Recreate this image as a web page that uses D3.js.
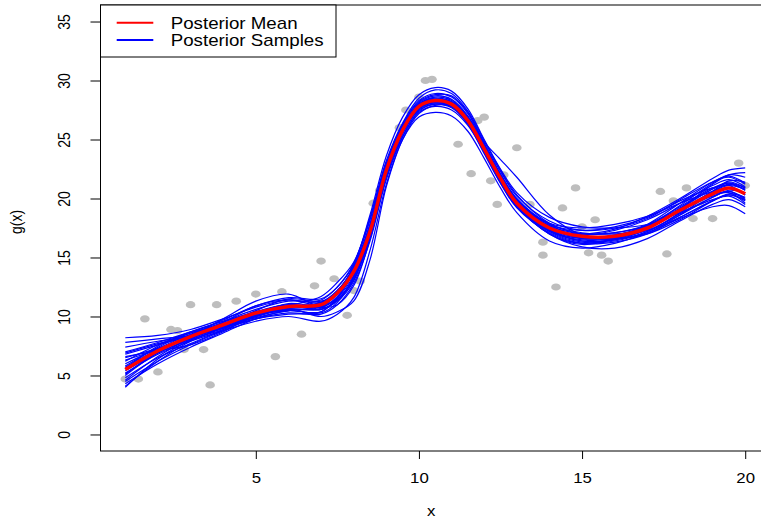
<!DOCTYPE html>
<html>
<head>
<meta charset="utf-8">
<script src="https://cdn.jsdelivr.net/npm/d3@7"></script>
<style>
  body { margin: 0; background: #fff; }
  text { font-family: "Liberation Sans", Arial, Helvetica, sans-serif; }
</style>
</head>
<body>
<div id="chart"></div>
<script>
//DATA
//observed points (x, y)
const obsX = [1.0, 1.4, 1.6, 2.0, 2.4, 2.6, 2.8, 3.0, 3.4, 3.6, 3.8, 4.4, 5.0, 5.6, 5.8, 6.4, 6.8, 7.0, 7.4, 7.8,
    8.0, 8.2, 8.6, 8.8, 9.4, 9.6, 10.0, 10.2, 10.4, 11.2, 11.6, 11.8, 12.0, 12.2, 12.4, 12.6, 13.0, 13.4, 13.8, 13.8,
    14.2, 14.4, 14.8, 15.0, 15.2, 15.4, 15.6, 15.8, 17.4, 17.6, 17.8, 18.2, 18.4, 18.6, 19.0, 19.8, 20.0];
const obsY = [4.7, 4.7, 9.8, 5.3, 8.9, 8.8, 7.2, 11.0, 7.2, 4.2, 11.0, 11.3, 11.9, 6.6, 12.1, 8.5, 12.6, 14.7, 13.2, 10.1,
    12.2, 13.0, 19.6, 20.7, 26.0, 27.5, 28.6, 30.0, 30.1, 24.6, 22.1, 26.6, 26.9, 21.5, 19.5, 22.0, 24.3, 19.5, 15.2, 16.3,
    12.5, 19.2, 20.9, 17.6, 15.4, 18.2, 15.2, 14.7, 20.6, 15.3, 19.8, 20.9, 18.3, 19.7, 18.3, 23.0, 21.1];

//x positions where the curves are read
const gridX = [1, 2, 3, 4, 5, 6, 7, 7.5, 8, 8.5, 9, 9.5, 10, 10.5, 11, 11.5, 12, 12.5, 13, 14, 15, 16, 17, 18, 19, 19.5, 20];

//posterior mean
const meanY = [5.5, 7.1, 8.3, 9.3, 10.3, 10.85, 11.0, 12.0, 13.8, 17.2, 22.4, 25.8, 27.8, 28.3, 28.0, 26.6, 24.2, 21.7, 19.6, 17.5, 16.8, 16.8, 17.5, 19.0, 20.4, 20.9, 20.4];

//posterior samples
const sampleY = [
    [8.2, 8.4, 8.9, 9.8, 10.8, 11.4, 11.2, 12.2, 14.2, 17.8, 22.8, 26.0, 28.0, 28.6, 28.3, 26.9, 24.5, 22.0, 19.9, 17.6, 16.6, 16.7, 17.3, 18.6, 20.1, 20.6, 20.0],
    [4.0, 6.4, 8.0, 9.0, 10.0, 10.6, 10.6, 11.4, 13.2, 16.6, 21.8, 25.3, 27.4, 28.0, 27.8, 26.4, 24.0, 21.4, 19.3, 17.2, 16.5, 16.6, 17.4, 19.1, 20.8, 21.4, 20.9],
    [6.2, 7.6, 8.6, 9.7, 10.9, 11.6, 11.5, 12.5, 14.5, 18.4, 23.2, 26.4, 28.5, 29.2, 28.9, 27.4, 24.9, 22.4, 20.3, 17.9, 17.0, 17.1, 17.8, 19.3, 20.9, 21.3, 20.7],
    [5.0, 6.9, 8.0, 8.9, 9.8, 10.3, 10.2, 11.0, 12.8, 16.4, 21.6, 25.2, 27.3, 27.8, 27.5, 26.2, 23.9, 21.3, 19.2, 17.1, 16.2, 16.3, 17.0, 18.4, 19.8, 20.3, 19.8],
    [6.8, 7.6, 8.4, 9.8, 11.3, 11.9, 10.8, 11.0, 12.6, 16.6, 22.2, 25.8, 27.9, 28.4, 28.1, 26.7, 24.3, 21.8, 19.7, 17.6, 16.9, 17.3, 18.2, 19.6, 21.1, 21.6, 21.0],
    [4.6, 6.6, 8.2, 9.4, 10.2, 10.5, 10.9, 12.1, 14.2, 17.6, 22.6, 26.0, 28.1, 28.7, 28.4, 27.0, 24.6, 22.1, 20.0, 17.8, 16.7, 16.6, 17.1, 18.6, 20.6, 21.5, 21.4],
    [5.8, 7.4, 8.6, 9.3, 10.0, 10.9, 11.7, 12.9, 14.6, 18.2, 23.0, 26.3, 28.3, 28.9, 28.6, 27.2, 24.7, 22.3, 20.2, 18.1, 17.3, 17.5, 18.3, 19.9, 21.4, 21.8, 21.2],
    [7.4, 7.9, 8.3, 9.0, 10.1, 10.9, 10.6, 11.3, 13.0, 16.9, 22.0, 25.5, 27.5, 28.0, 27.7, 26.3, 23.8, 21.3, 19.3, 17.3, 16.6, 16.8, 17.6, 19.0, 20.2, 20.5, 19.6],
    [4.3, 6.0, 7.4, 8.6, 9.8, 10.5, 10.3, 11.2, 13.4, 17.3, 22.3, 25.7, 27.7, 28.3, 28.0, 26.6, 24.2, 21.8, 19.7, 17.4, 16.4, 16.5, 17.4, 19.1, 21.2, 22.0, 22.2],
    [6.5, 7.3, 8.1, 9.5, 10.9, 11.4, 11.0, 11.9, 13.8, 17.4, 22.4, 25.9, 28.0, 28.5, 28.2, 26.8, 24.3, 21.9, 19.8, 17.7, 17.0, 17.1, 17.7, 19.0, 20.3, 20.6, 19.9],
    [5.2, 6.8, 7.9, 8.8, 9.6, 10.0, 9.6, 10.2, 11.6, 15.6, 21.2, 25.0, 26.9, 27.3, 27.0, 25.7, 23.4, 20.9, 18.8, 16.4, 15.8, 16.2, 17.1, 18.3, 19.3, 19.4, 18.7],
    [5.6, 7.5, 8.7, 9.6, 10.6, 11.3, 11.4, 12.5, 14.4, 18.6, 23.6, 26.9, 28.8, 29.4, 29.1, 27.6, 25.0, 22.5, 20.5, 18.4, 17.6, 17.5, 17.8, 18.8, 19.9, 20.2, 19.5],
    [4.8, 6.5, 7.7, 8.9, 10.3, 11.0, 10.6, 11.4, 13.3, 17.0, 22.1, 25.5, 27.6, 28.1, 27.8, 26.5, 24.2, 21.6, 19.4, 17.0, 16.1, 16.6, 17.8, 19.6, 21.4, 21.9, 21.3],
    [7.0, 7.8, 8.7, 9.6, 10.3, 10.5, 10.4, 11.6, 13.9, 17.6, 22.6, 26.0, 27.9, 28.3, 28.0, 26.7, 24.4, 22.0, 19.9, 17.8, 17.3, 17.6, 18.4, 19.8, 20.9, 21.1, 20.3],
    [5.4, 6.9, 8.1, 9.1, 10.1, 10.6, 10.7, 11.7, 13.7, 17.3, 22.3, 25.6, 27.6, 28.2, 27.9, 26.5, 24.1, 21.6, 19.5, 17.4, 16.7, 16.9, 17.6, 19.0, 20.6, 21.1, 20.8],
    [6.0, 7.3, 8.5, 9.5, 10.4, 10.7, 10.0, 10.4, 11.3, 14.8, 21.0, 25.0, 27.2, 27.9, 27.8, 26.5, 24.3, 21.9, 19.7, 17.2, 16.3, 16.4, 17.2, 18.7, 20.1, 20.7, 20.5],
    [6.3, 7.2, 8.2, 9.2, 10.2, 10.8, 11.2, 12.2, 14.1, 17.8, 22.8, 26.2, 28.2, 28.8, 28.7, 27.3, 24.8, 23.3, 21.8, 18.6, 16.9, 16.6, 17.0, 18.2, 19.8, 20.4, 20.1],
    [4.5, 6.2, 7.6, 8.8, 10.0, 10.7, 10.9, 11.9, 13.8, 17.5, 22.5, 25.9, 27.9, 28.4, 28.1, 26.7, 24.3, 21.8, 19.6, 17.3, 16.4, 16.5, 17.2, 18.8, 20.6, 21.2, 20.7],
    [6.9, 7.7, 8.4, 9.1, 9.9, 10.5, 10.8, 12.0, 14.3, 18.2, 23.0, 26.1, 27.9, 28.3, 27.9, 26.4, 24.0, 21.5, 19.4, 17.4, 17.0, 17.4, 18.5, 20.0, 21.7, 22.4, 22.6],
    [5.1, 7.0, 8.4, 9.4, 10.4, 11.0, 10.8, 11.5, 13.1, 16.9, 22.1, 25.6, 27.6, 28.1, 27.8, 26.4, 24.0, 21.5, 19.4, 17.0, 15.9, 15.8, 16.6, 18.1, 19.5, 19.9, 19.3],
    [7.8, 8.1, 8.4, 9.2, 10.5, 11.5, 11.3, 12.0, 13.9, 17.7, 22.6, 25.9, 27.9, 28.4, 28.1, 26.8, 24.4, 21.9, 19.8, 17.6, 16.7, 16.9, 17.7, 19.2, 20.8, 21.3, 20.9],
    [4.1, 6.2, 7.9, 9.0, 9.8, 10.2, 10.4, 11.6, 13.9, 17.5, 22.4, 25.7, 27.7, 28.2, 27.9, 26.6, 24.2, 21.7, 19.7, 17.9, 17.5, 17.8, 18.5, 19.6, 20.6, 20.9, 20.3],
    [5.7, 7.2, 8.2, 9.1, 10.0, 10.8, 11.1, 12.1, 14.0, 17.7, 22.6, 25.9, 27.8, 28.3, 28.0, 26.7, 24.2, 21.7, 19.5, 17.0, 16.2, 16.6, 17.6, 19.4, 21.3, 22.0, 21.8],
    [6.6, 7.1, 7.6, 8.7, 10.2, 11.1, 10.9, 11.6, 13.5, 17.2, 22.3, 25.7, 27.8, 28.4, 28.2, 26.9, 24.5, 22.0, 19.9, 17.8, 17.1, 17.0, 17.3, 18.4, 19.8, 20.3, 19.9]
];

//axis ticks and labels
const xTicks = [5, 10, 15, 20];
const yTicks = [0, 5, 10, 15, 20, 25, 30, 35];
const legendLabels = ["Posterior Mean", "Posterior Samples"];
const legendColors = ["#ff0000", "#0000ff"];

//LAYOUT
let width = 761;
let height = 521;
let plot = { left: 100.5, right: 770, top: 5, bottom: 451 };
const stretch = 1.2; //the picture is a little wider than tall, text too

let svg = d3.select("#chart").append("svg")
    .attr("width", width)
    .attr("height", height);

//R pads the data range by 4% on each side
let x = d3.scaleLinear().domain([0.24, 20.76]).range([plot.left, plot.right]);
let y = d3.scaleLinear().domain([-1.4, 36.4]).range([plot.bottom, plot.top]);

let line = d3.line()
    .x(function (d) { return x(d[0]); })
    .y(function (d) { return y(d[1]); })
    .curve(d3.curveCatmullRom.alpha(0.5));

//Points
svg.append("g").selectAll("ellipse")
    .data(d3.zip(obsX, obsY))
    .enter()
    .append("ellipse")
    .attr("cx", function (d) { return x(d[0]); })
    .attr("cy", function (d) { return y(d[1]); })
    .attr("rx", 4.8)
    .attr("ry", 3.6)
    .attr("fill", "#bebebe");

//Sample curves
svg.append("g").selectAll("path")
    .data(sampleY)
    .enter()
    .append("path")
    .attr("d", function (s) { return line(d3.zip(gridX, s)); })
    .attr("fill", "none")
    .attr("stroke", "#0000ff")
    .attr("stroke-width", 1.2);

//Mean curve
svg.append("path")
    .attr("d", line(d3.zip(gridX, meanY)))
    .attr("fill", "none")
    .attr("stroke", "#ff0000")
    .attr("stroke-width", 3.5);

//Box round the plot
svg.append("rect")
    .attr("x", plot.left)
    .attr("y", plot.top)
    .attr("width", plot.right - plot.left)
    .attr("height", plot.bottom - plot.top)
    .attr("fill", "none")
    .attr("stroke", "#000")
    .attr("stroke-width", 1);

//X axis
let xAxis = svg.append("g")
    .attr("transform", "translate(0," + plot.bottom + ")")
    .call(d3.axisBottom(x).tickValues(xTicks).tickSize(8).tickFormat(d3.format("d")));
xAxis.select(".domain").remove();
xAxis.selectAll("line").attr("stroke", "#000");
xAxis.selectAll("text")
    .attr("y", 0).attr("dy", 0)
    .attr("fill", "#000")
    .attr("font-size", 14)
    .attr("transform", "translate(0,32) scale(" + stretch + ",1)");

//Y axis
let yAxis = svg.append("g")
    .attr("transform", "translate(" + plot.left + ",0)")
    .call(d3.axisLeft(y).tickValues(yTicks).tickSize(10).tickFormat(d3.format("d")));
yAxis.select(".domain").remove();
yAxis.selectAll("line").attr("stroke", "#000");
yAxis.selectAll("text")
    .attr("x", 0).attr("dy", 0)
    .attr("fill", "#000")
    .attr("font-size", 14)
    .attr("text-anchor", "middle")
    .attr("transform", "translate(-31,0) rotate(-90) scale(1," + stretch + ")");

//Axis titles
svg.append("text")
    .attr("text-anchor", "middle")
    .attr("font-size", 14)
    .attr("transform", "translate(" + ((plot.left + plot.right) / 2 - 4) + ",516) scale(" + stretch + ",1)")
    .text("x");

svg.append("text")
    .attr("text-anchor", "middle")
    .attr("font-size", 14)
    .attr("transform", "translate(22,222) rotate(-90) scale(1," + stretch + ")")
    .text("g(x)");

//Legend
let legend = svg.append("g");
legend.append("rect")
    .attr("x", plot.left)
    .attr("y", plot.top)
    .attr("width", 235.5)
    .attr("height", 52)
    .attr("fill", "#fff")
    .attr("stroke", "#000")
    .attr("stroke-width", 1);

legendLabels.forEach(function (label, i) {
    let ly = 22.7 + i * 17.3;
    legend.append("line")
        .attr("x1", 116.7).attr("x2", 153.3)
        .attr("y1", ly).attr("y2", ly)
        .attr("stroke", legendColors[i])
        .attr("stroke-width", 2);
    legend.append("text")
        .attr("font-size", 16)
        .attr("transform", "translate(170.7," + (ly + 5.8) + ") scale(1.17,1)")
        .text(label);
});
</script>
</body>
</html>
